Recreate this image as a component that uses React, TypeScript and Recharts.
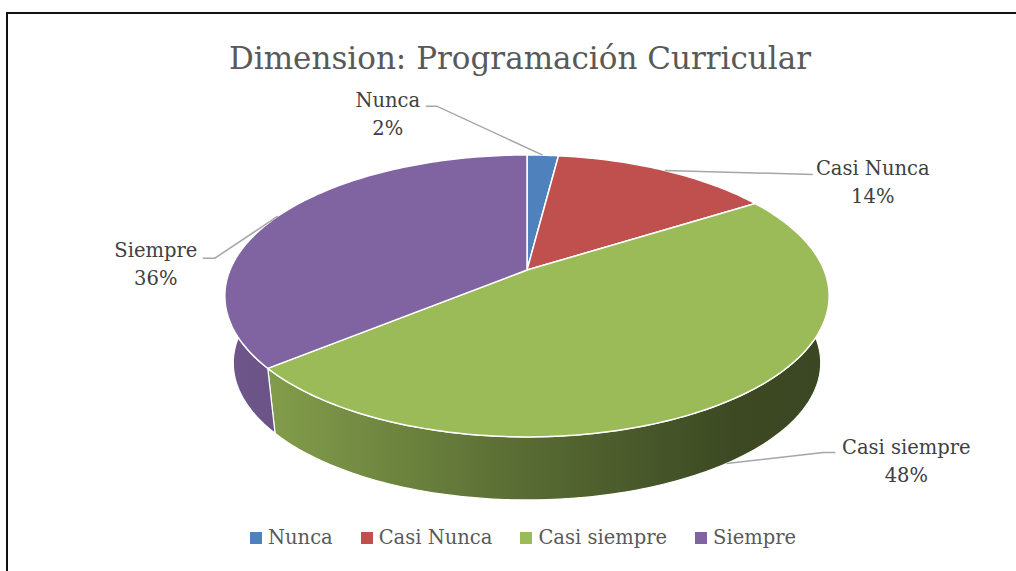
import { PieChart, Pie, Cell, Legend } from "recharts";

const CATEGORIES = ["Nunca", "Casi Nunca", "Casi siempre", "Siempre"];
const VALUES = [2, 14, 48, 36];
const COLORS = ["#4f81bd", "#c0504d", "#9bbb59", "#8064a2"];

const data = CATEGORIES.map((name, i) => ({ name, value: VALUES[i] }));

// where each label sits: elbow offset from the slice edge, tail length, text centre from elbow
const LABEL_LAYOUT = [
  { dx: -106, dy: -49, tail: -11, tx: -49, ty: 1 },
  { dx: 148, dy: 4, tail: 0, tx: 60, ty: 1 },
  { dx: 97, dy: -11, tail: 12, tx: 83, ty: 1 },
  { dx: -63, dy: 42, tail: -12, tx: -59, ty: -1 },
];

const FONT = "'DejaVu Serif', serif";

// fake 3d: perspective tilt of the disc
const K = 0.184;
const RY = 0.4586;
const SHRINK = 0.972;
const DEPTH = 67.7;

function proj(cx: number, cy: number, r: number, deg: number, bottom: boolean) {
  const t = (deg * Math.PI) / 180;
  const c = Math.cos(t);
  const s = Math.sin(t);
  const den = 1 + K * c;
  const f = bottom ? SHRINK : 1;
  return [cx + (r * f * s) / den, cy + (bottom ? DEPTH : 0) - (r * RY * f * c) / den];
}

function shade(hex: string, f: number) {
  const n = parseInt(hex.slice(1), 16);
  const ch = [(n >> 16) & 255, (n >> 8) & 255, n & 255].map((v) => Math.round(v * f));
  return `rgb(${ch[0]},${ch[1]},${ch[2]})`;
}

function TopFace(props: any) {
  const { cx, cy, outerRadius, startAngle, endAngle, fill } = props;
  const a0 = 90 - startAngle;
  const a1 = 90 - endAngle;
  const steps = Math.max(2, Math.ceil(Math.abs(a1 - a0)));
  let d = `M${cx},${cy}`;
  for (let i = 0; i <= steps; i++) {
    const [x, y] = proj(cx, cy, outerRadius, a0 + ((a1 - a0) * i) / steps, false);
    d += ` L${x.toFixed(2)},${y.toFixed(2)}`;
  }
  d += " Z";
  return <path d={d} fill={fill} stroke="#fff" strokeWidth={1.5} strokeLinejoin="round" />;
}

function SideWall(props: any) {
  const { cx, cy, outerRadius, startAngle, endAngle, fill } = props;
  const name = props.payload?.name ?? props.name;
  const idx = Math.max(0, CATEGORIES.indexOf(name));
  const lo = Math.max(90 - startAngle, 90);
  const hi = Math.min(90 - endAngle, 270);
  if (hi <= lo) return <g />;
  const steps = Math.max(2, Math.ceil(hi - lo));
  const pts: string[] = [];
  for (let i = 0; i <= steps; i++) {
    const [x, y] = proj(cx, cy, outerRadius, lo + ((hi - lo) * i) / steps, false);
    pts.push(`${x.toFixed(2)},${y.toFixed(2)}`);
  }
  for (let i = steps; i >= 0; i--) {
    const [x, y] = proj(cx, cy, outerRadius, lo + ((hi - lo) * i) / steps, true);
    pts.push(`${x.toFixed(2)},${y.toFixed(2)}`);
  }
  const id = `wall-${idx}`;
  return (
    <g>
      <defs>
        <linearGradient id={id} gradientUnits="userSpaceOnUse" x1={cx - outerRadius} y1={0} x2={cx + outerRadius} y2={0}>
          <stop offset="0" stopColor={shade(fill, 0.86)} />
          <stop offset="0.1" stopColor={shade(fill, 0.82)} />
          <stop offset="0.5" stopColor={shade(fill, 0.57)} />
          <stop offset="0.85" stopColor={shade(fill, 0.39)} />
          <stop offset="1" stopColor={shade(fill, 0.38)} />
        </linearGradient>
      </defs>
      <path d={`M${pts.join(" L")} Z`} fill={`url(#${id})`} stroke="#fff" strokeWidth={1.2} strokeLinejoin="round" />
    </g>
  );
}

function renderLabel(props: any) {
  const { cx, cy, midAngle, outerRadius, percent } = props;
  const name = props.payload?.name ?? props.name;
  const idx = Math.max(0, CATEGORIES.indexOf(name));
  const lay = LABEL_LAYOUT[idx];
  const m = 90 - midAngle;
  const front = m > 90 && m < 270;
  const [ax, ay] = proj(cx, cy, outerRadius, m, front);
  const ex = ax + lay.dx;
  const ey = ay + lay.dy;
  const tx = ex + lay.tx;
  const ty = ey + lay.ty;
  return (
    <g>
      <polyline
        points={`${ax},${ay} ${ex},${ey} ${ex + lay.tail},${ey}`}
        fill="none"
        stroke="#a6a6a6"
        strokeWidth={1.5}
      />
      <text x={tx} y={ty} textAnchor="middle" fontFamily={FONT} fontSize={19.5} fill="#404040">
        <tspan x={tx} dy={0}>{name}</tspan>
        <tspan x={tx} dy={28}>{`${Math.round(percent * 100)}%`}</tspan>
      </text>
    </g>
  );
}

function LegendContent(props: any) {
  const seen = new Set<string>();
  const items = (props.payload || [])
    .filter((e: any) => {
      if (e.type === "none" || seen.has(e.value)) return false;
      seen.add(e.value);
      return true;
    })
    .sort((a: any, b: any) => CATEGORIES.indexOf(a.value) - CATEGORIES.indexOf(b.value));
  return (
    <div
      style={{
        display: "flex",
        justifyContent: "center",
        alignItems: "center",
        gap: 28,
        fontFamily: FONT,
        fontSize: 19.5,
        color: "#595959",
      }}
    >
      {items.map((e: any) => (
        <span key={e.value} style={{ display: "flex", alignItems: "center" }}>
          <span
            style={{
              width: 12,
              height: 12,
              background: COLORS[CATEGORIES.indexOf(e.value)] ?? e.color,
              marginRight: 6,
              display: "inline-block",
            }}
          />
          {e.value}
        </span>
      ))}
    </div>
  );
}

export default function App() {
  return (
    <div style={{ position: "absolute", left: 0, top: 0, width: 1016, height: 571, background: "#fff", overflow: "hidden" }}>
      <div
        style={{
          position: "absolute",
          left: 6,
          top: 12,
          width: 1040,
          height: 600,
          borderTop: "2px solid #111",
          borderLeft: "2px solid #111",
        }}
      />
      <svg style={{ position: "absolute", left: 0, top: 0 }} width={1016} height={90}>
        <text x={520} y={69} textAnchor="middle" fontFamily={FONT} fontSize={31} fill="#595959">
          Dimension: Programación Curricular
        </text>
      </svg>
      <div style={{ position: "absolute", left: 0, top: 0 }}>
        <PieChart width={1016} height={571} margin={{ top: 0, right: 0, bottom: 0, left: 0 }}>
          <Pie
            data={data}
            dataKey="value"
            nameKey="name"
            cx={527}
            cy={270}
            outerRadius={297}
            startAngle={90}
            endAngle={-270}
            isAnimationActive={false}
            legendType="none"
            shape={SideWall}
          >
            {data.map((d, i) => (
              <Cell key={d.name} fill={COLORS[i]} />
            ))}
          </Pie>
          <Pie
            data={data}
            dataKey="value"
            nameKey="name"
            cx={527}
            cy={270}
            outerRadius={297}
            startAngle={90}
            endAngle={-270}
            isAnimationActive={false}
            shape={TopFace}
            label={renderLabel}
            labelLine={false}
          >
            {data.map((d, i) => (
              <Cell key={d.name} fill={COLORS[i]} />
            ))}
          </Pie>
          <Legend
            verticalAlign="bottom"
            content={<LegendContent />}
            wrapperStyle={{ top: 526, left: 15, width: 1016 }}
          />
        </PieChart>
      </div>
    </div>
  );
}
